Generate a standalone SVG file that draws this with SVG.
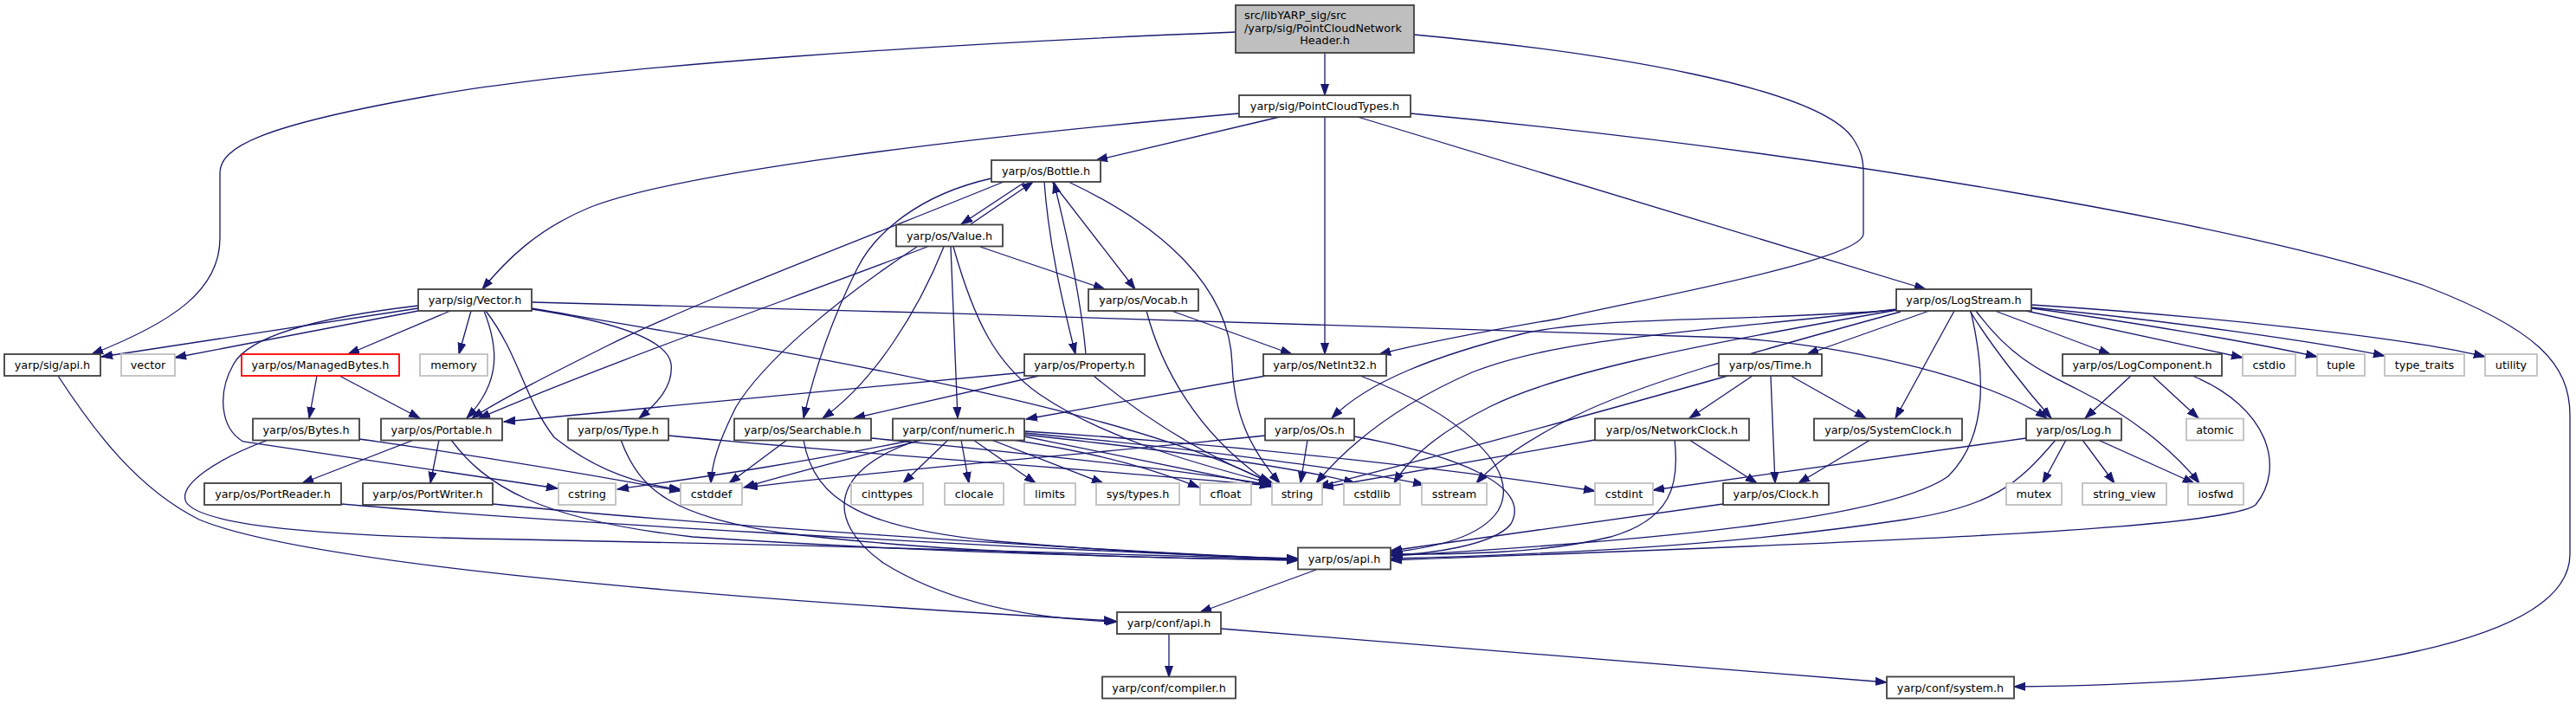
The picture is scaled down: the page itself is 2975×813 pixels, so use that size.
<svg xmlns="http://www.w3.org/2000/svg" width="2975" height="813" viewBox="0 0 2975 813">
<style>
.e{fill:none;stroke:#191970;stroke-width:1.3;marker-end:url(#ah)}
.n{fill:#ffffff;stroke:#404040;stroke-width:1.8}
.g{fill:#ffffff;stroke:#bfbfbf;stroke-width:1.8}
.r{fill:#ffffff;stroke:#ff0000;stroke-width:1.8}
.root{fill:#bfbfbf;stroke:#404040;stroke-width:1.8}
text{font-family:"DejaVu Sans","Liberation Sans",sans-serif;font-size:12.8px;fill:#000000}
.c{text-anchor:middle}
</style>
<defs>
<marker id="ah" markerWidth="14" markerHeight="11" refX="13" refY="5" orient="auto" markerUnits="userSpaceOnUse">
<path d="M0,0.5 L13,5 L0,9.5 z" fill="#191970" stroke="#191970" stroke-width="1"/>
</marker>
</defs>
<rect width="2975" height="813" fill="#ffffff"/>
<g id="edges">
<path class="e" d="M1530,61 L1530,110"/>
<path class="e" d="M1427,37 C1100,50 700,75 500,110 C300,145 254,170 254,200 L254,275 C254,335 200,372 106,409"/>
<path class="e" d="M1633,40 C1850,60 2100,100 2140,160 C2150,175 2152,185 2152,200 L2152,270 C2152,300 1900,345 1800,368 C1700,385 1640,397 1593,409"/>
<path class="e" d="M1478,135 L1266,185"/>
<path class="e" d="M1431,131 C1100,160 780,200 680,240 C620,265 585,300 557,334"/>
<path class="e" d="M1568,135 L2224,334"/>
<path class="e" d="M1530,135 L1530,409"/>
<path class="e" d="M1629,131 C2100,175 2600,260 2800,330 C2930,380 2968,420 2968,480 L2968,640 C2968,760 2600,790 2326,793"/>
<path class="e" d="M1184,210 L1110,259"/>
<path class="e" d="M1121,259 L1193,210"/>
<path class="e" d="M1215,210 L1311,334"/>
<path class="e" d="M1206,210 C1212,290 1230,360 1242,409"/>
<path class="e" d="M1254,409 C1248,340 1232,270 1217,210"/>
<path class="e" d="M1234,210 C1340,260 1420,330 1423,420 C1425,480 1445,520 1478,558"/>
<path class="e" d="M1159,210 C1000,275 800,350 700,400 C640,430 580,460 545,483"/>
<path class="e" d="M1145,206 C1060,225 1010,270 990,310 C960,370 940,430 928,483"/>
<path class="e" d="M1071,285 C900,350 700,420 553,483"/>
<path class="e" d="M1059,285 C960,350 880,420 850,470 C830,510 822,535 821,558"/>
<path class="e" d="M1090,285 C1060,360 1010,440 950,483"/>
<path class="e" d="M1098,285 L1106,483"/>
<path class="e" d="M1101,285 C1125,370 1150,420 1200,455 C1280,510 1400,540 1467,558"/>
<path class="e" d="M1132,285 L1276,334"/>
<path class="e" d="M1353,359 L1492,409"/>
<path class="e" d="M1324,359 C1340,420 1380,500 1466,558"/>
<path class="e" d="M1184,430 L582,487"/>
<path class="e" d="M1200,434 L986,483"/>
<path class="e" d="M1263,434 C1330,490 1400,530 1470,558"/>
<path class="e" d="M1462,434 L1185,484"/>
<path class="e" d="M1571,434 C1680,475 1760,540 1730,590 C1710,620 1660,632 1606,638"/>
<path class="e" d="M1461,503 C1250,525 1000,545 862,563"/>
<path class="e" d="M1510,508 L1502,558"/>
<path class="e" d="M1564,504 C1680,525 1770,560 1745,605 C1725,630 1650,640 1607,641"/>
<path class="e" d="M909,508 L842,558"/>
<path class="e" d="M928,508 C940,580 1000,610 1150,625 C1300,638 1420,643 1499,645"/>
<path class="e" d="M1006,506 C1200,525 1380,545 1468,560"/>
<path class="e" d="M717,508 C740,570 780,595 900,615 C1100,640 1350,645 1499,647"/>
<path class="e" d="M772,503 C1000,525 1300,545 1468,561"/>
<path class="e" d="M1055,508 C900,540 780,555 713,565"/>
<path class="e" d="M1065,508 C980,530 900,550 859,563"/>
<path class="e" d="M1095,508 L1043,558"/>
<path class="e" d="M1110,508 L1119,558"/>
<path class="e" d="M1124,508 L1196,558"/>
<path class="e" d="M1145,508 L1274,558"/>
<path class="e" d="M1170,508 C1280,525 1340,545 1385,563"/>
<path class="e" d="M1183,504 L1468,562"/>
<path class="e" d="M1183,502 C1350,520 1500,540 1565,558"/>
<path class="e" d="M1183,500 C1400,520 1580,545 1645,560"/>
<path class="e" d="M1183,498 C1450,515 1700,545 1842,567"/>
<path class="e" d="M1062,508 C960,540 950,600 1020,650 C1100,700 1200,715 1290,718"/>
<path class="e" d="M483,356 L117,412"/>
<path class="e" d="M483,359 L202,413"/>
<path class="e" d="M483,353 C380,365 290,385 270,420 C250,455 255,495 281,510 L644,564"/>
<path class="e" d="M520,359 L402,409"/>
<path class="e" d="M544,359 L530,409"/>
<path class="e" d="M559,359 C575,400 580,440 539,483"/>
<path class="e" d="M561,359 C600,410 605,460 640,505 C690,545 740,560 786,565"/>
<path class="e" d="M614,357 C700,370 770,390 775,420 C778,445 760,465 738,483"/>
<path class="e" d="M614,356 C900,405 1300,470 1467,558"/>
<path class="e" d="M614,349 C1100,362 1800,380 2000,390 C2150,400 2300,440 2364,483"/>
<path class="e" d="M366,434 L357,483"/>
<path class="e" d="M392,434 L485,483"/>
<path class="e" d="M415,507 C600,533 700,552 786,567"/>
<path class="e" d="M310,508 C250,530 205,560 215,580 C235,610 400,620 600,623 C900,628 1300,640 1499,646"/>
<path class="e" d="M478,508 L349,558"/>
<path class="e" d="M507,508 L497,558"/>
<path class="e" d="M521,508 C560,560 620,600 800,620 C1100,640 1350,644 1499,647"/>
<path class="e" d="M394,582 C600,600 1100,630 1499,646"/>
<path class="e" d="M569,582 C800,605 1200,632 1499,646"/>
<path class="e" d="M67,434 C110,500 160,565 230,600 C350,650 800,690 1288,717"/>
<path class="e" d="M1520,658 L1386,707"/>
<path class="e" d="M1350,732 L1350,782"/>
<path class="e" d="M1410,726 L2179,788"/>
<path class="e" d="M2191,358 C2000,372 1850,365 1760,385 C1660,410 1580,440 1538,483"/>
<path class="e" d="M2191,357 C1950,385 1800,390 1700,430 C1620,465 1560,510 1520,558"/>
<path class="e" d="M2191,358 C1950,400 1800,430 1720,470 C1670,495 1630,525 1610,558"/>
<path class="e" d="M2195,360 C2050,400 1900,440 1820,480 C1770,505 1730,530 1705,558"/>
<path class="e" d="M2228,359 L2087,409"/>
<path class="e" d="M2257,359 L2189,483"/>
<path class="e" d="M2275,359 C2300,400 2340,450 2369,483"/>
<path class="e" d="M2282,359 C2320,410 2350,425 2400,450 C2460,480 2510,520 2540,558"/>
<path class="e" d="M2304,359 L2437,409"/>
<path class="e" d="M2340,359 L2590,413"/>
<path class="e" d="M2346,356 C2450,370 2600,395 2676,412"/>
<path class="e" d="M2346,355 C2500,370 2680,395 2754,411"/>
<path class="e" d="M2346,352 C2550,365 2780,390 2870,412"/>
<path class="e" d="M2276,359 C2290,420 2300,500 2250,550 C2180,600 1900,625 1606,642"/>
<path class="e" d="M2024,434 L1951,483"/>
<path class="e" d="M2045,434 L2050,558"/>
<path class="e" d="M2068,434 L2155,483"/>
<path class="e" d="M1999,433 C1850,475 1650,530 1522,562"/>
<path class="e" d="M1951,508 L2029,558"/>
<path class="e" d="M1934,508 C1940,560 1930,600 1860,620 C1780,640 1680,640 1606,640"/>
<path class="e" d="M1842,508 L1527,563"/>
<path class="e" d="M2160,508 L2077,558"/>
<path class="e" d="M1990,582 L1606,636"/>
<path class="e" d="M2340,506 L1909,566"/>
<path class="e" d="M2386,508 L2359,558"/>
<path class="e" d="M2405,508 L2442,558"/>
<path class="e" d="M2423,508 L2534,558"/>
<path class="e" d="M2374,508 C2330,560 2300,585 2200,600 C2000,630 1800,640 1606,645"/>
<path class="e" d="M2461,434 L2408,483"/>
<path class="e" d="M2486,434 L2539,483"/>
<path class="e" d="M2532,434 C2620,470 2640,540 2605,583 C2570,610 2200,625 1606,647"/>
</g>
<g id="n_root"><rect class="root" x="1427" y="6" width="206" height="55"/><text x="1437" y="22.3">src/libYARP_sig/src</text><text x="1437" y="36.8">/yarp/sig/PointCloudNetwork</text><text class="c" x="1530" y="51.3">Header.h</text></g>
<g id="n_pct"><rect class="n" x="1431" y="110" width="198" height="25"/><text class="c" x="1530" y="127.1">yarp/sig/PointCloudTypes.h</text></g>
<g id="n_bottle"><rect class="n" x="1145" y="185" width="126" height="25"/><text class="c" x="1208" y="202.1">yarp/os/Bottle.h</text></g>
<g id="n_value"><rect class="n" x="1035" y="259.5" width="123" height="25"/><text class="c" x="1096.5" y="276.6">yarp/os/Value.h</text></g>
<g id="n_vector"><rect class="n" x="483" y="334" width="131" height="25"/><text class="c" x="548.5" y="351.1">yarp/sig/Vector.h</text></g>
<g id="n_vocab"><rect class="n" x="1257" y="334" width="127" height="25"/><text class="c" x="1320.5" y="351.1">yarp/os/Vocab.h</text></g>
<g id="n_logstream"><rect class="n" x="2190" y="334" width="156" height="25"/><text class="c" x="2268" y="351.1">yarp/os/LogStream.h</text></g>
<g id="n_sigapi"><rect class="n" x="5" y="409" width="111" height="25"/><text class="c" x="60.5" y="426.1">yarp/sig/api.h</text></g>
<g id="n_vector_std"><rect class="g" x="140" y="409" width="62" height="25"/><text class="c" x="171" y="426.1">vector</text></g>
<g id="n_managedbytes"><rect class="r" x="279" y="409" width="182" height="25"/><text class="c" x="370" y="426.1">yarp/os/ManagedBytes.h</text></g>
<g id="n_memory"><rect class="g" x="485" y="409" width="78" height="25"/><text class="c" x="524" y="426.1">memory</text></g>
<g id="n_property"><rect class="n" x="1183" y="409" width="139" height="25"/><text class="c" x="1252.5" y="426.1">yarp/os/Property.h</text></g>
<g id="n_netint32"><rect class="n" x="1459" y="409" width="142" height="25"/><text class="c" x="1530" y="426.1">yarp/os/NetInt32.h</text></g>
<g id="n_time"><rect class="n" x="1985" y="409" width="119" height="25"/><text class="c" x="2044.5" y="426.1">yarp/os/Time.h</text></g>
<g id="n_logcomponent"><rect class="n" x="2382" y="409" width="184" height="25"/><text class="c" x="2474" y="426.1">yarp/os/LogComponent.h</text></g>
<g id="n_cstdio"><rect class="g" x="2590" y="409" width="61" height="25"/><text class="c" x="2620.5" y="426.1">cstdio</text></g>
<g id="n_tuple"><rect class="g" x="2676" y="409" width="55" height="25"/><text class="c" x="2703.5" y="426.1">tuple</text></g>
<g id="n_type_traits"><rect class="g" x="2754" y="409" width="92" height="25"/><text class="c" x="2800" y="426.1">type_traits</text></g>
<g id="n_utility"><rect class="g" x="2870" y="409" width="60" height="25"/><text class="c" x="2900" y="426.1">utility</text></g>
<g id="n_bytes"><rect class="n" x="292" y="483.5" width="123" height="25"/><text class="c" x="353.5" y="500.6">yarp/os/Bytes.h</text></g>
<g id="n_portable"><rect class="n" x="440" y="483.5" width="140" height="25"/><text class="c" x="510" y="500.6">yarp/os/Portable.h</text></g>
<g id="n_type"><rect class="n" x="656" y="483.5" width="116" height="25"/><text class="c" x="714" y="500.6">yarp/os/Type.h</text></g>
<g id="n_searchable"><rect class="n" x="848" y="483.5" width="158" height="25"/><text class="c" x="927" y="500.6">yarp/os/Searchable.h</text></g>
<g id="n_numeric"><rect class="n" x="1031" y="483.5" width="152" height="25"/><text class="c" x="1107" y="500.6">yarp/conf/numeric.h</text></g>
<g id="n_os"><rect class="n" x="1461" y="483.5" width="103" height="25"/><text class="c" x="1512.5" y="500.6">yarp/os/Os.h</text></g>
<g id="n_networkclock"><rect class="n" x="1842" y="483.5" width="178" height="25"/><text class="c" x="1931" y="500.6">yarp/os/NetworkClock.h</text></g>
<g id="n_systemclock"><rect class="n" x="2095" y="483.5" width="171" height="25"/><text class="c" x="2180.5" y="500.6">yarp/os/SystemClock.h</text></g>
<g id="n_log"><rect class="n" x="2340" y="483.5" width="110" height="25"/><text class="c" x="2395" y="500.6">yarp/os/Log.h</text></g>
<g id="n_atomic"><rect class="g" x="2525" y="483.5" width="66" height="25"/><text class="c" x="2558" y="500.6">atomic</text></g>
<g id="n_portreader"><rect class="n" x="236" y="558" width="158" height="25"/><text class="c" x="315" y="575.1">yarp/os/PortReader.h</text></g>
<g id="n_portwriter"><rect class="n" x="419" y="558" width="150" height="25"/><text class="c" x="494" y="575.1">yarp/os/PortWriter.h</text></g>
<g id="n_cstring"><rect class="g" x="645" y="558" width="66" height="25"/><text class="c" x="678" y="575.1">cstring</text></g>
<g id="n_cstddef"><rect class="g" x="786" y="558" width="71" height="25"/><text class="c" x="821.5" y="575.1">cstddef</text></g>
<g id="n_cinttypes"><rect class="g" x="983" y="558" width="83" height="25"/><text class="c" x="1024.5" y="575.1">cinttypes</text></g>
<g id="n_clocale"><rect class="g" x="1091" y="558" width="68" height="25"/><text class="c" x="1125" y="575.1">clocale</text></g>
<g id="n_limits"><rect class="g" x="1183" y="558" width="59" height="25"/><text class="c" x="1212.5" y="575.1">limits</text></g>
<g id="n_systypes"><rect class="g" x="1266" y="558" width="96" height="25"/><text class="c" x="1314" y="575.1">sys/types.h</text></g>
<g id="n_cfloat"><rect class="g" x="1386" y="558" width="59" height="25"/><text class="c" x="1415.5" y="575.1">cfloat</text></g>
<g id="n_string"><rect class="g" x="1469" y="558" width="58" height="25"/><text class="c" x="1498" y="575.1">string</text></g>
<g id="n_cstdlib"><rect class="g" x="1552" y="558" width="65" height="25"/><text class="c" x="1584.5" y="575.1">cstdlib</text></g>
<g id="n_sstream"><rect class="g" x="1642" y="558" width="75" height="25"/><text class="c" x="1679.5" y="575.1">sstream</text></g>
<g id="n_cstdint"><rect class="g" x="1842" y="558" width="67" height="25"/><text class="c" x="1875.5" y="575.1">cstdint</text></g>
<g id="n_clock"><rect class="n" x="1990" y="558" width="122" height="25"/><text class="c" x="2051" y="575.1">yarp/os/Clock.h</text></g>
<g id="n_mutex"><rect class="g" x="2317" y="558" width="64" height="25"/><text class="c" x="2349" y="575.1">mutex</text></g>
<g id="n_string_view"><rect class="g" x="2405" y="558" width="97" height="25"/><text class="c" x="2453.5" y="575.1">string_view</text></g>
<g id="n_iosfwd"><rect class="g" x="2527" y="558" width="64" height="25"/><text class="c" x="2559" y="575.1">iosfwd</text></g>
<g id="n_osapi"><rect class="n" x="1499" y="632.5" width="107" height="25"/><text class="c" x="1552.5" y="649.6">yarp/os/api.h</text></g>
<g id="n_confapi"><rect class="n" x="1290" y="707" width="120" height="25"/><text class="c" x="1350" y="724.1">yarp/conf/api.h</text></g>
<g id="n_compiler"><rect class="n" x="1273" y="781.5" width="154" height="25"/><text class="c" x="1350" y="798.6">yarp/conf/compiler.h</text></g>
<g id="n_system"><rect class="n" x="2179" y="781.5" width="147" height="25"/><text class="c" x="2252.5" y="798.6">yarp/conf/system.h</text></g>
</svg>
